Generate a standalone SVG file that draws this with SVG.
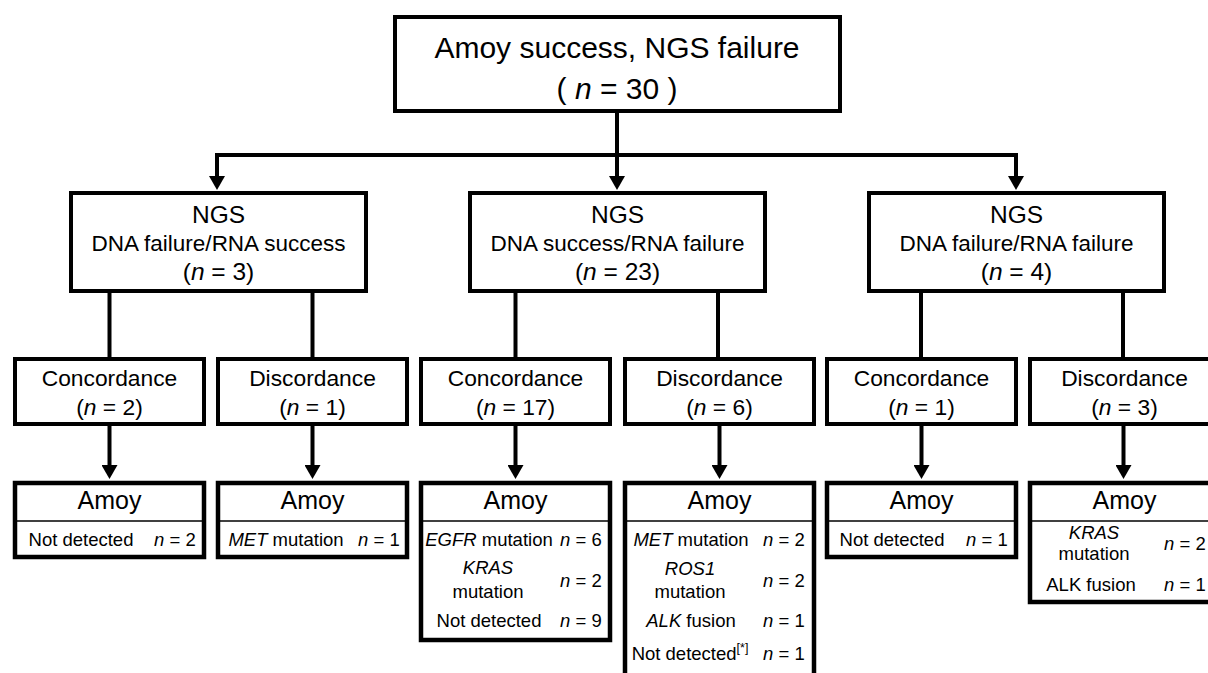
<svg xmlns="http://www.w3.org/2000/svg" width="1208" height="673" viewBox="0 0 1208 673">
<style>
text{font-family:"Liberation Sans",Arial,sans-serif;fill:#000}
.box{fill:#fff;stroke:#000;stroke-width:4}
.abox{fill:#fff;stroke:#000;stroke-width:4.5}
.div{stroke:#000;stroke-width:1.5}
.con{fill:none;stroke:#000;stroke-width:4;stroke-linejoin:miter}
.i{font-style:italic}
.t30{font-size:30px;text-anchor:middle}
.t25{font-size:24.5px;text-anchor:middle}
.t22{font-size:22.5px;text-anchor:middle}
.t23{font-size:22.8px;text-anchor:middle}
.am{font-size:25px;text-anchor:middle}
.r{font-size:18.5px;text-anchor:middle}
.n{font-size:18.5px}
</style>
<defs>
<marker id="ah" viewBox="0 0 14 16" refX="8" refY="8" markerWidth="14" markerHeight="16" markerUnits="userSpaceOnUse" orient="auto-start-reverse">
<path d="M0,0 L14,8 L0,16 z" fill="#000"/>
</marker>
</defs>

<g id="connectors">
<path class="con" d="M617,113 V184" marker-end="url(#ah)"/>
<path class="con" d="M217,184 V155 H1016 V184" marker-start="url(#ah)" marker-end="url(#ah)"/>
<path class="con" d="M109.5,293 V357"/>
<path class="con" d="M312.5,293 V357"/>
<path class="con" d="M515.5,293 V357"/>
<path class="con" d="M718,293 V357"/>
<path class="con" d="M921,293 V357"/>
<path class="con" d="M1123,293 V357"/>
<path class="con" d="M109.5,426 V473" marker-end="url(#ah)"/>
<path class="con" d="M312.5,426 V473" marker-end="url(#ah)"/>
<path class="con" d="M515.5,426 V473" marker-end="url(#ah)"/>
<path class="con" d="M719.5,426 V473" marker-end="url(#ah)"/>
<path class="con" d="M921.5,426 V473" marker-end="url(#ah)"/>
<path class="con" d="M1123.5,426 V473" marker-end="url(#ah)"/>
</g>

<g id="root">
<rect class="box" x="395" y="17" width="445" height="94"/>
<text class="t30" x="617" y="58">Amoy success, NGS failure</text>
<text class="t30" x="617" y="99">( <tspan class="i">n</tspan> = 30 )</text>
</g>

<g id="ngs1">
<rect class="box" x="71" y="193" width="295" height="98"/>
<text class="t25" x="218.5" y="223">NGS</text>
<text class="t22" x="218.5" y="251">DNA failure/RNA success</text>
<text class="t25" x="218.5" y="280">(<tspan class="i">n</tspan> = 3)</text>
</g>
<g id="ngs2">
<rect class="box" x="470" y="193" width="295" height="98"/>
<text class="t25" x="617.5" y="223">NGS</text>
<text class="t22" x="617.5" y="251">DNA success/RNA failure</text>
<text class="t25" x="617.5" y="280">(<tspan class="i">n</tspan> = 23)</text>
</g>
<g id="ngs3">
<rect class="box" x="869" y="193" width="295" height="98"/>
<text class="t25" x="1016.5" y="223">NGS</text>
<text class="t22" x="1016.5" y="251">DNA failure/RNA failure</text>
<text class="t25" x="1016.5" y="280">(<tspan class="i">n</tspan> = 4)</text>
</g>

<g id="conc1">
<rect class="box" x="15" y="359" width="189" height="65"/>
<text class="t23" x="109.5" y="386">Concordance</text>
<text class="t23" x="109.5" y="415">(<tspan class="i">n</tspan> = 2)</text>
</g>
<g id="disc1">
<rect class="box" x="218" y="359" width="189" height="65"/>
<text class="t23" x="312.5" y="386">Discordance</text>
<text class="t23" x="312.5" y="415">(<tspan class="i">n</tspan> = 1)</text>
</g>
<g id="conc2">
<rect class="box" x="421" y="359" width="189" height="65"/>
<text class="t23" x="515.5" y="386">Concordance</text>
<text class="t23" x="515.5" y="415">(<tspan class="i">n</tspan> = 17)</text>
</g>
<g id="disc2">
<rect class="box" x="625" y="359" width="189" height="65"/>
<text class="t23" x="719.5" y="386">Discordance</text>
<text class="t23" x="719.5" y="415">(<tspan class="i">n</tspan> = 6)</text>
</g>
<g id="conc3">
<rect class="box" x="827" y="359" width="189" height="65"/>
<text class="t23" x="921.5" y="386">Concordance</text>
<text class="t23" x="921.5" y="415">(<tspan class="i">n</tspan> = 1)</text>
</g>
<g id="disc3">
<rect class="box" x="1030" y="359" width="189" height="65"/>
<text class="t23" x="1124.5" y="386">Discordance</text>
<text class="t23" x="1124.5" y="415">(<tspan class="i">n</tspan> = 3)</text>
</g>

<g id="amoy1">
<rect class="abox" x="15" y="483" width="189" height="74"/>
<line class="div" x1="15" y1="521" x2="204" y2="521"/>
<text class="am" x="109.5" y="509">Amoy</text>
<text class="r" x="81" y="546">Not detected</text>
<text class="n" x="154" y="546"><tspan class="i">n</tspan> = 2</text>
</g>
<g id="amoy2">
<rect class="abox" x="218" y="483" width="189" height="74"/>
<line class="div" x1="218" y1="521" x2="407" y2="521"/>
<text class="am" x="312.5" y="509">Amoy</text>
<text class="r" x="286" y="546"><tspan class="i">MET</tspan> mutation</text>
<text class="n" x="358" y="546"><tspan class="i">n</tspan> = 1</text>
</g>
<g id="amoy3">
<rect class="abox" x="421" y="483" width="189" height="157"/>
<line class="div" x1="421" y1="521" x2="610" y2="521"/>
<text class="am" x="515.5" y="509">Amoy</text>
<text class="r" x="489" y="546"><tspan class="i">EGFR</tspan> mutation</text>
<text class="n" x="560" y="546"><tspan class="i">n</tspan> = 6</text>
<text class="r" x="488" y="574"><tspan class="i">KRAS</tspan></text>
<text class="r" x="488" y="598">mutation</text>
<text class="n" x="560" y="587"><tspan class="i">n</tspan> = 2</text>
<text class="r" x="489" y="627">Not detected</text>
<text class="n" x="560" y="627"><tspan class="i">n</tspan> = 9</text>
</g>
<g id="amoy4">
<rect class="abox" x="625" y="483" width="189" height="230"/>
<line class="div" x1="625" y1="521" x2="814" y2="521"/>
<text class="am" x="719.5" y="509">Amoy</text>
<text class="r" x="691" y="546"><tspan class="i">MET</tspan> mutation</text>
<text class="n" x="763" y="546"><tspan class="i">n</tspan> = 2</text>
<text class="r" x="690" y="575"><tspan class="i">ROS1</tspan></text>
<text class="r" x="690" y="598">mutation</text>
<text class="n" x="763" y="587"><tspan class="i">n</tspan> = 2</text>
<text class="r" x="691" y="627"><tspan class="i">ALK</tspan> fusion</text>
<text class="n" x="763" y="627"><tspan class="i">n</tspan> = 1</text>
<text class="r" x="690" y="660">Not detected<tspan font-size="12.5" dy="-8">[*]</tspan></text>
<text class="n" x="763" y="660"><tspan class="i">n</tspan> = 1</text>
</g>
<g id="amoy5">
<rect class="abox" x="827" y="483" width="189" height="74"/>
<line class="div" x1="827" y1="521" x2="1016" y2="521"/>
<text class="am" x="921.5" y="509">Amoy</text>
<text class="r" x="892" y="546">Not detected</text>
<text class="n" x="966" y="546"><tspan class="i">n</tspan> = 1</text>
</g>
<g id="amoy6">
<rect class="abox" x="1030" y="483" width="189" height="119"/>
<line class="div" x1="1030" y1="521" x2="1219" y2="521"/>
<text class="am" x="1124.5" y="509">Amoy</text>
<text class="r" x="1094" y="539"><tspan class="i">KRAS</tspan></text>
<text class="r" x="1094" y="560">mutation</text>
<text class="n" x="1164" y="550"><tspan class="i">n</tspan> = 2</text>
<text class="r" x="1091" y="591">ALK fusion</text>
<text class="n" x="1164" y="591"><tspan class="i">n</tspan> = 1</text>
</g>
</svg>
